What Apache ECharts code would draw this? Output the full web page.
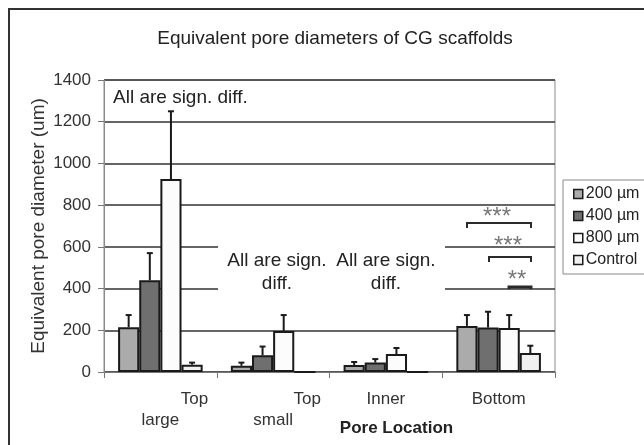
<!DOCTYPE html>
<html>
<head>
<meta charset="utf-8">
<script src="https://cdn.jsdelivr.net/npm/echarts@6/dist/echarts.min.js"></script>
<style>html,body{margin:0;padding:0;background:#fff;}#c{width:644px;height:445px;}</style>
</head>
<body>
<div id="c"></div>
<script>
const categories = ['Top large', 'Top small', 'Inner', 'Bottom'];
const seriesNames = ['200 µm', '400 µm', '800 µm', 'Control'];
const mean200 = [215, 30, 33, 221];
const err200 = [58, 15, 15, 52];
const mean400 = [440, 80, 45, 213];
const err400 = [130, 42, 17, 76];
const mean800 = [925, 197, 86, 211];
const err800 = [325, 76, 29, 62];
const meanCtrl = [35, 0, 0, 91];
const errCtrl = [10, 0, 0, 35];
const yTicks = [0, 200, 400, 600, 800, 1000, 1200, 1400];

const means = [mean200, mean400, mean800, meanCtrl];
const errs = [err200, err400, err800, errCtrl];
const colors = ['#ababab', '#6f6f6f', '#fcfcfc', '#f0f0f0'];
const FONT = 'Liberation Sans, Arial, sans-serif';

const chart = echarts.init(document.getElementById('c'));

const errData = [];
means.forEach((arr, si) => arr.forEach((m, ci) => errData.push([ci, si, m, errs[si][ci]])));

const barSeries = seriesNames.map((name, si) => ({
  name: name,
  type: 'bar',
  data: means[si],
  barGap: '0%',
  barCategoryGap: '25%',
  itemStyle: { color: colors[si], borderColor: '#1a1a1a', borderWidth: 2 },
  z: 2
}));

const errSeries = {
  type: 'custom',
  data: errData,
  z: 3,
  silent: true,
  renderItem: function (params, api) {
    const ci = api.value(0), si = api.value(1), m = api.value(2), e = api.value(3);
    if (!(e > 0)) return null;
    const band = api.size([1, 0])[0];
    const bw = band * 0.75 / 4;
    const x = api.coord([ci, 0])[0] - band * 0.375 + bw * (si + 0.5);
    const yTop = api.coord([ci, m + e])[1];
    const yBar = api.coord([ci, m])[1];
    const st = { stroke: '#1a1a1a', lineWidth: 2 };
    return {
      type: 'group',
      children: [
        { type: 'line', shape: { x1: x, y1: yBar, x2: x, y2: yTop }, style: st },
        { type: 'line', shape: { x1: x - 3, y1: yTop, x2: x + 3, y2: yTop }, style: st }
      ]
    };
  }
};

function bracket(x1, x2, y, tick, lw) {
  return {
    type: 'polyline', z: 10,
    shape: { points: [[x1, y + tick], [x1, y], [x2, y], [x2, y + tick]] },
    style: { stroke: '#2a2a2a', lineWidth: lw, fill: null }
  };
}
function txt(x, y, text, size, color, align) {
  return {
    type: 'text', z: 10, x: x, y: y,
    style: { text: text, fontSize: size, fontFamily: FONT, fill: color, align: align || 'center', verticalAlign: 'middle', lineHeight: 23 }
  };
}

chart.setOption({
  animation: false,
  backgroundColor: '#ffffff',
  title: {
    text: 'Equivalent pore diameters of CG scaffolds',
    left: 330, top: 24, textAlign: 'center',
    textStyle: { fontSize: 19, fontWeight: 'normal', color: '#222', fontFamily: FONT }
  },
  legend: {
    orient: 'vertical',
    left: 563, top: 180,
    width: 80,
    padding: [5, 20, 5, 10],
    itemWidth: 9, itemHeight: 9, itemGap: 4,
    borderColor: '#888', borderWidth: 1,
    selectedMode: false,
    icon: 'rect',
    data: seriesNames,
    itemStyle: { borderColor: '#1a1a1a', borderWidth: 1.5 },
    textStyle: { fontSize: 16, color: '#222', fontFamily: FONT, lineHeight: 18, padding: [0, 0, 0, -2] }
  },
  grid: {
    left: 104, right: 89, top: 80, bottom: 73,
    outerBoundsMode: 'none', containLabel: false,
    show: true, borderColor: '#8a8a8a', borderWidth: 1, backgroundColor: 'transparent'
  },
  xAxis: {
    type: 'category',
    data: categories,
    name: 'Pore Location',
    nameLocation: 'middle',
    nameGap: 48,
    nameMoveOverlap: false,
    nameTextStyle: { fontSize: 17, fontWeight: 'bold', color: '#222', fontFamily: FONT, padding: [0, 0, 0, 134] },
    axisLine: { lineStyle: { color: '#777', width: 1 } },
    axisTick: { show: true, length: 6, lineStyle: { color: '#777' } },
    axisLabel: {
      margin: 17,
      interval: 0,
      color: '#333', fontSize: 17, fontFamily: FONT, lineHeight: 21,
      formatter: function (v) {
        if (v.indexOf('Top ') === 0) return '{t|Top}\n{s|' + v.slice(4) + '}';
        return '{s|' + v + '}';
      },
      rich: {
        t: { fontSize: 17, fontFamily: FONT, color: '#333', lineHeight: 21, padding: [0, 0, 0, 68] },
        s: { fontSize: 17, fontFamily: FONT, color: '#333', lineHeight: 21 }
      }
    }
  },
  yAxis: {
    type: 'value',
    min: yTicks[0], max: yTicks[yTicks.length - 1], interval: 200,
    name: 'Equivalent pore diameter (um)',
    nameLocation: 'middle',
    nameGap: 56,
    nameMoveOverlap: false,
    nameTextStyle: { fontSize: 19, color: '#333', fontFamily: FONT },
    axisLine: { show: true, lineStyle: { color: '#8a8a8a', width: 1 } },
    axisTick: { show: true, length: 6, lineStyle: { color: '#777' } },
    axisLabel: { margin: 13, color: '#333', fontSize: 17, fontFamily: FONT, formatter: function (v) { return String(v); } },
    splitLine: { show: true, lineStyle: { color: '#333', width: 1.5 } }
  },
  graphic: [
    { type: 'rect', z: 1, shape: { x: 9, y: 9, width: 700, height: 500 }, style: { fill: null, stroke: '#333', lineWidth: 2 } },
    { type: 'rect', z: 1, shape: { x: 218, y: 240, width: 227, height: 56 }, style: { fill: '#fff' } },
    txt(113, 98, 'All are sign. diff.', 19, '#222', 'left'),
    txt(277, 272, 'All are sign.\ndiff.', 19, '#222'),
    { type: 'rect', z: 10, shape: { x: 327, y: 245, width: 114, height: 50 }, style: { fill: '#fff' } },
    txt(386, 272, 'All are sign.\ndiff.', 19, '#222'),
    txt(497, 217, '***', 24, '#777'),
    bracket(467, 531, 223, 5, 2),
    txt(508, 246, '***', 24, '#777'),
    bracket(489, 531, 257, 5, 2),
    txt(517, 280, '**', 24, '#777'),
    bracket(509, 531, 287, 2, 3)
  ],
  series: barSeries.concat([errSeries])
});
</script>
</body>
</html>
